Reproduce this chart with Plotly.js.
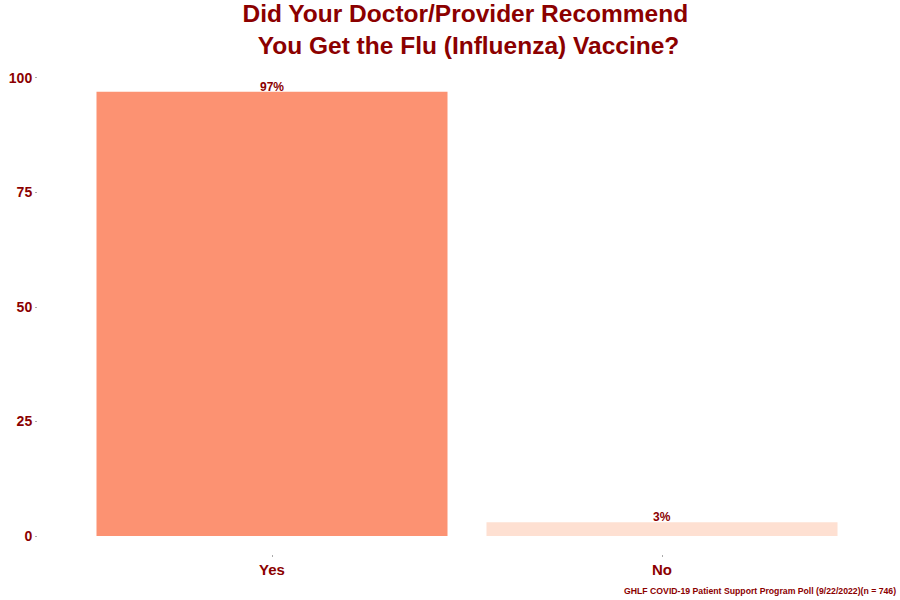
<!DOCTYPE html>
<html>
<head>
<meta charset="utf-8">
<script src="https://cdn.plot.ly/plotly-3.0.1.min.js"></script>
<style>html,body{margin:0;padding:0;background:#fff;}#chart{width:900px;height:600px;}</style>
</head>
<body>
<div id="chart"></div>
<script>
const categories = ["Yes", "No"];
const values = [97, 3];
const barColors = ["#FC9272", "#FEE0D2"];
const yTicks = [0, 25, 50, 75, 100];
const titleText = "Did Your Doctor/Provider Recommend<br> You Get the Flu (Influenza) Vaccine?";
const captionText = "GHLF COVID-19 Patient Support Program Poll (9/22/2022)(n = 746)";

const red = "#8B0000";
const fam = "Liberation Sans, Arial, sans-serif";

const trace = {
  type: "bar",
  x: categories,
  y: values,
  width: 0.9,
  marker: {color: barColors},
  hoverinfo: "none"
};

const barLabels = categories.map((c, i) => ({
  x: c, y: values[i], xref: "x", yref: "y",
  text: "<b>" + values[i] + "%</b>",
  showarrow: false, yanchor: "bottom", yshift: -4,
  font: {family: fam, size: 12, color: red}
}));

const layout = {
  width: 900, height: 600,
  margin: {l: 38, r: 4, t: 55, b: 46},
  paper_bgcolor: "#fff", plot_bgcolor: "#fff",
  showlegend: false,
  title: {
    text: "<b>" + titleText + "</b>",
    font: {family: fam, size: 24.5, color: red},
    x: 0.517, xanchor: "center",
    y: 0.963, yanchor: "top", yref: "container"
  },
  xaxis: {
    type: "category",
    range: [-0.6, 1.6],
    showgrid: false, zeroline: false, showline: false,
    ticks: "outside", ticklen: 2, tickcolor: "#aaa", tickwidth: 1,
    tickfont: {family: fam, size: 15, color: red, weight: "bold"},
    fixedrange: true
  },
  yaxis: {
    range: [-3.93, 105.02],
    tickvals: yTicks,
    ticktext: yTicks.map(String),
    showgrid: false, zeroline: false, showline: false,
    ticks: "outside", ticklen: 2, tickcolor: "#aaa", tickwidth: 1,
    tickfont: {family: fam, size: 14, color: red, weight: "bold"},
    fixedrange: true
  },
  annotations: barLabels.concat([{
    text: "<b>" + captionText + "</b>",
    xref: "paper", yref: "paper",
    x: 1, xanchor: "right", xshift: 2,
    y: -37 / 499, yanchor: "middle",
    showarrow: false,
    font: {family: fam, size: 8.7, color: red}
  }])
};

Plotly.newPlot("chart", [trace], layout, {displayModeBar: false, staticPlot: true});
</script>
</body>
</html>
